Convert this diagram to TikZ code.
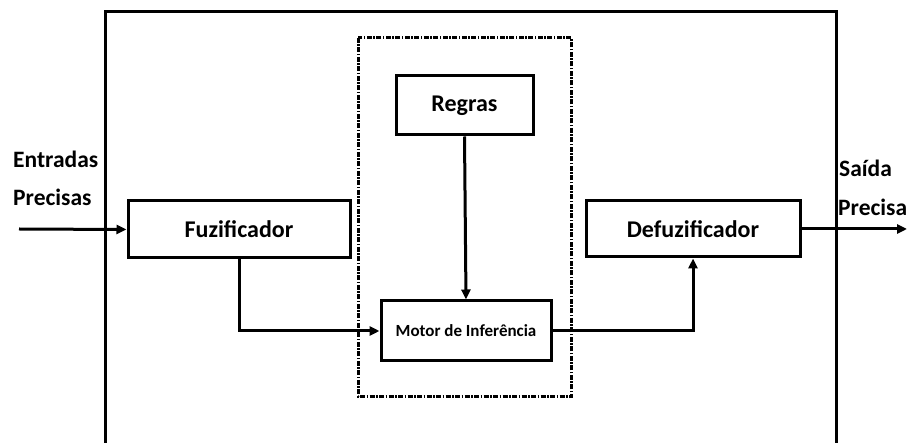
\documentclass[tikz,border=0pt]{standalone}
\usepackage{fontspec}
\setmainfont{Carlito}
\usetikzlibrary{positioning,calc,arrows.meta}
\tikzstyle{blockbox} = [
    rectangle,
    draw=black,
    fill=white,
    line width=3pt,
    font=\bfseries\fontsize{24}{27}\selectfont,
    inner sep=0pt
]

\begin{document}
\begin{tikzpicture}[x=1pt,y=-1pt,
        flow/.style={line width=3pt, -{Triangle[length=10pt,width=9pt]}},
        sidelabel/.style={anchor=base west, inner sep=0pt,
            font=\bfseries\fontsize{23.5}{26}\selectfont},
        groupbox/.style={line width=3pt,
            dash pattern=on 5pt off 1.5pt on 1.5pt off 1.5pt}
    ]
        \useasboundingbox (0,0) rectangle (908,443);
        \clip (0,0) rectangle (908,443);

        % moldura externa e grupo da inferencia
        \draw[line width=3pt] (105,470) -- (105,12) -- (836,12) -- (836,470);
        \draw[groupbox] (358,38) rectangle (571,397);

        \node[blockbox, minimum width=137pt, minimum height=59pt] (regras) at (464.5,105.5) {Regras};
        \node[blockbox, minimum width=170pt, minimum height=60pt,
            font=\bfseries\fontsize{17}{20}\selectfont] (motor) at (466,331) {Motor de Inferência};
        \node[blockbox, minimum width=222pt, minimum height=57pt] (fuz) at (239,229.5) {Fuzificador};
        \node[blockbox, minimum width=214pt, minimum height=56pt] (defuz) at (693,229) {Defuzificador};

        \node[sidelabel] (entradas) at (13,168) {Entradas};
        \node[sidelabel] (precisas) at (13,206) {Precisas};
        \node[sidelabel] (saida) at (839,177) {Saída};
        \node[sidelabel] (precisa) at (838,216) {Precisa};

        \coordinate (entrada) at (19,229);
        \coordinate (saidaFim) at (907,229);

        \draw[flow] (entrada) -- (fuz.west);
        \draw[flow] (fuz.south) |- (motor.west);
        \draw[flow] (regras.south) -- (motor.north);
        \draw[flow] (motor.east) -| (defuz.south);
        \draw[flow] (defuz.east) -- (saidaFim);
    \end{tikzpicture}
\end{document}
